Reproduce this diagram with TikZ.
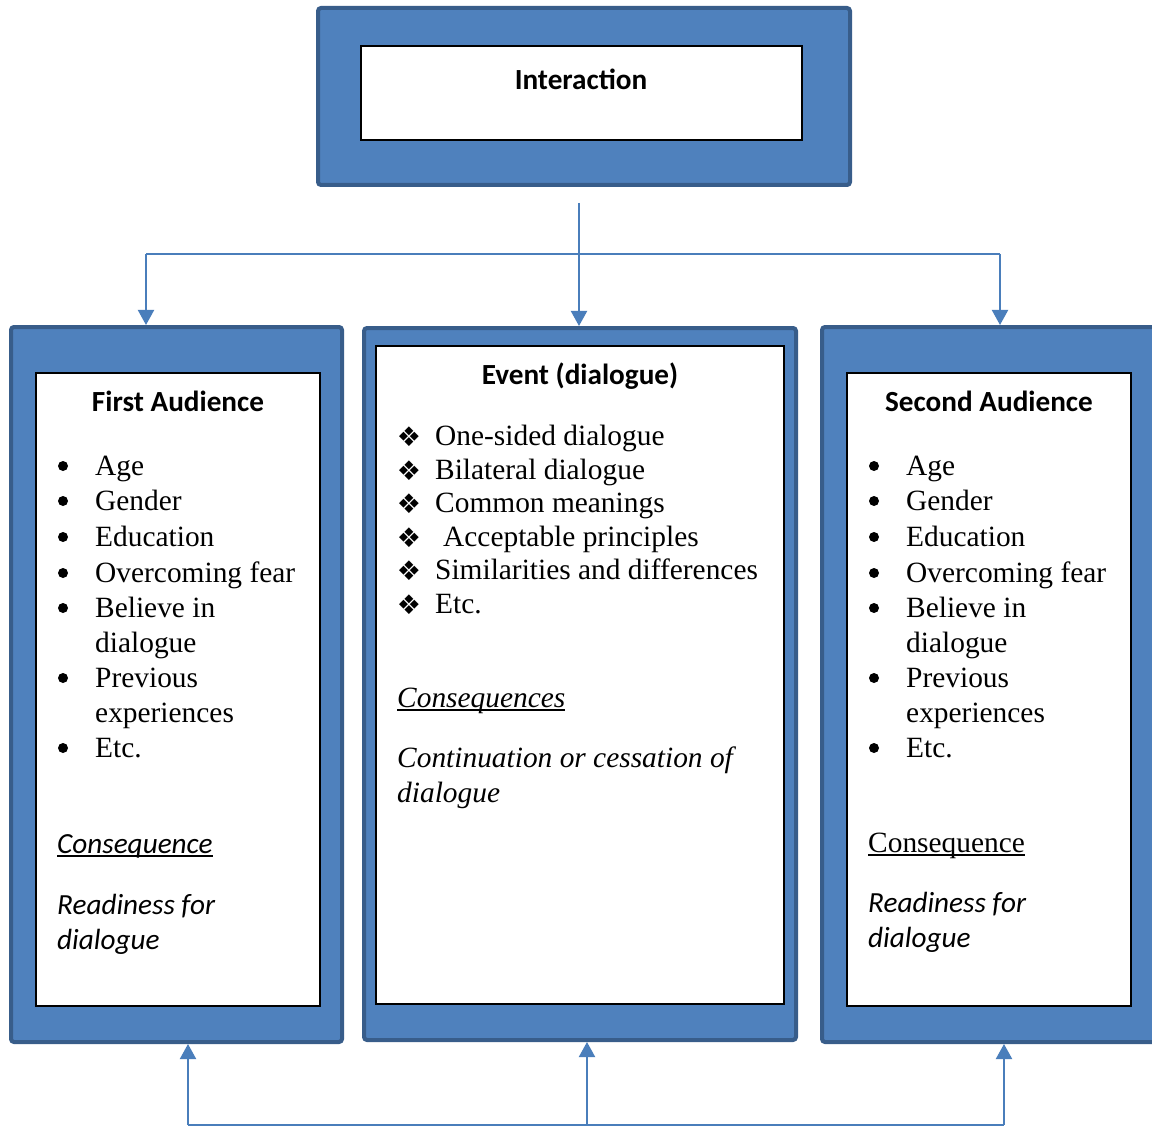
\documentclass[tikz,border=0pt]{standalone}
\usepackage{fontspec}
\setmainfont{Liberation Serif}
\newfontfamily\calib{Carlito}
\newfontfamily\dejavu{DejaVu Sans}
\usetikzlibrary{arrows.meta}
\definecolor{boxblue}{HTML}{4F81BD}
\definecolor{boxedge}{HTML}{385D8A}
\definecolor{linkblue}{HTML}{4A7EBB}
\newcommand\ulx[1]{\setbox0\hbox{#1}\rlap{\rule[-4pt]{\wd0}{2pt}}\box0}
\begin{document}
\begin{tikzpicture}[x=1pt,y=-1pt,
  outerbox/.style={draw=boxedge, line width=4pt, fill=boxblue, rounded corners=3pt, inner sep=0pt},
  innerbox/.style={draw=black, line width=1.5pt, fill=white, inner sep=0pt},
  txt/.style={anchor=base west, inner sep=0pt, font=\fontsize{29.4}{35}\selectfont},
  bul/.style={circle, fill=black, inner sep=0pt, minimum size=10pt},
  dia/.style={anchor=base, inner sep=0pt, font=\dejavu\fontsize{27}{30}\selectfont},
  stitle/.style={anchor=base, inner sep=0pt, font=\calib\bfseries\fontsize{29.2}{35}\selectfont},
  sit/.style={anchor=base west, inner sep=0pt, font=\calib\itshape\fontsize{29.2}{35}\selectfont},
  link/.style={draw=linkblue, line width=2pt},
  arr/.style={link, -{Triangle[width=16pt,length=15pt]}}]
\useasboundingbox (0,0) rectangle (1152,1126);
\fill[white] (0,0) rectangle (1152,1126);

% boxes
\node[outerbox, minimum width=532pt, minimum height=177pt] (top) at (584,96.5) {};
\node[innerbox, minimum width=441pt, minimum height=94pt] (topin) at (581.5,93) {};
\node[stitle] (ttop) at (581,90) {Interaction};

\node[outerbox, minimum width=331pt, minimum height=715pt] (left) at (176.5,684.5) {};
\node[innerbox, minimum width=284pt, minimum height=633pt] (leftin) at (178,689.5) {};
\node[outerbox, minimum width=432pt, minimum height=712pt] (mid) at (580,684) {};
\node[innerbox, minimum width=408pt, minimum height=658pt] (midin) at (580,675) {};
\node[outerbox, minimum width=334pt, minimum height=715pt] (right) at (989,684.5) {};
\node[innerbox, minimum width=284pt, minimum height=633pt] (rightin) at (989,689.5) {};

% connectors
\coordinate (hub) at (579,203);
\coordinate (busL) at (146,254);
\coordinate (busR) at (1000,254);
\draw[link] (busL) -- (busR);
\draw[arr] (hub) -- (hub |- mid.north);
\draw[arr] (busL) -- (busL |- left.north);
\draw[arr] (busR) -- (busR |- right.north);
\coordinate (baseL) at (188,1125);
\coordinate (baseM) at (587,1125);
\coordinate (baseR) at (1004,1125);
\draw[link] (baseL) -- (baseR);
\draw[arr] (baseL) -- (baseL |- left.south);
\draw[arr] (baseM) -- (baseM |- mid.south);
\draw[arr] (baseR) -- (baseR |- right.south);

% left texts
\node[stitle] (lt) at (178,411) {First Audience};
\node[bul] (lb1) at (63,466) {}; \node[txt] (l1) at (95,475) {Age};
\node[bul] (lb2) at (63,501) {}; \node[txt] (l2) at (95,510) {Gender};
\node[bul] (lb3) at (63,537) {}; \node[txt] (l3) at (95,546) {Education};
\node[bul] (lb4) at (63,573) {}; \node[txt] (l4) at (95,582) {Overcoming fear};
\node[bul] (lb5) at (63,608) {}; \node[txt] (l5) at (95,617) {Believe in};
\node[txt] (l5b) at (95,652) {dialogue};
\node[bul] (lb6) at (63,678) {}; \node[txt] (l6) at (95,687) {Previous};
\node[txt] (l6b) at (95,722) {experiences};
\node[bul] (lb7) at (63,748) {}; \node[txt] (l7) at (95,757) {Etc.};
\node[sit] (lc) at (57,853) {\ulx{Consequence}};
\node[sit] (lr1) at (57,914) {Readiness for};
\node[sit] (lr2) at (57,949) {dialogue};

% right texts
\node[stitle] (rt) at (989,411) {Second Audience};
\node[bul] (rb1) at (874,466) {}; \node[txt] (r1) at (906,475) {Age};
\node[bul] (rb2) at (874,501) {}; \node[txt] (r2) at (906,510) {Gender};
\node[bul] (rb3) at (874,537) {}; \node[txt] (r3) at (906,546) {Education};
\node[bul] (rb4) at (874,573) {}; \node[txt] (r4) at (906,582) {Overcoming fear};
\node[bul] (rb5) at (874,608) {}; \node[txt] (r5) at (906,617) {Believe in};
\node[txt] (r5b) at (906,652) {dialogue};
\node[bul] (rb6) at (874,678) {}; \node[txt] (r6) at (906,687) {Previous};
\node[txt] (r6b) at (906,722) {experiences};
\node[bul] (rb7) at (874,748) {}; \node[txt] (r7) at (906,757) {Etc.};
\node[txt] (rc) at (868,852) {\ulx{Consequence}};
\node[sit] (rr1) at (868,912) {Readiness for};
\node[sit] (rr2) at (868,947) {dialogue};

% middle texts
\node[stitle] (mt) at (580,384) {Event (dialogue)};
\node[dia] (md1) at (409,446) {❖}; \node[txt] (m1) at (435,445) {One-sided dialogue};
\node[dia] (md2) at (409,480) {❖}; \node[txt] (m2) at (435,479) {Bilateral dialogue};
\node[dia] (md3) at (409,513) {❖}; \node[txt] (m3) at (435,512) {Common meanings};
\node[dia] (md4) at (409,547) {❖}; \node[txt] (m4) at (443,546) {Acceptable principles};
\node[dia] (md5) at (409,580) {❖}; \node[txt] (m5) at (435,579) {Similarities and differences};
\node[dia] (md6) at (409,614) {❖}; \node[txt] (m6) at (435,613) {Etc.};
\node[txt, font=\itshape\fontsize{29.4}{35}\selectfont] (mc) at (397,707) {\ulx{Consequences}};
\node[txt, font=\itshape\fontsize{29.4}{35}\selectfont] (mcc1) at (397,767) {Continuation or cessation of};
\node[txt, font=\itshape\fontsize{29.4}{35}\selectfont] (mcc2) at (397,802) {dialogue};
\end{tikzpicture}
\end{document}
